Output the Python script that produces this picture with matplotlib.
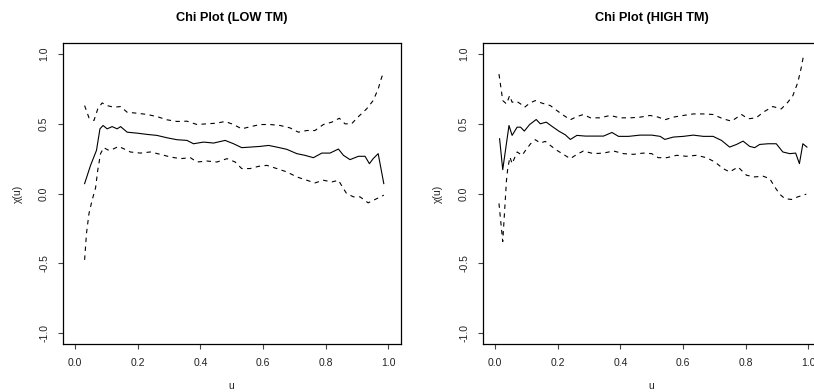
import matplotlib
matplotlib.use("Agg")
import matplotlib.pyplot as plt

plt.rcParams['font.family'] = ['Liberation Sans', 'DejaVu Sans']

# ---- LOW TM panel ----
low_u_chi = [0.030, 0.049, 0.068, 0.079, 0.089, 0.102, 0.118, 0.134, 0.145, 0.166,
             0.198, 0.230, 0.261, 0.293, 0.325, 0.357, 0.378, 0.410, 0.442, 0.479,
             0.506, 0.532, 0.559, 0.591, 0.618, 0.644, 0.676, 0.708, 0.734, 0.761,
             0.788, 0.814, 0.841, 0.857, 0.878, 0.905, 0.926, 0.940, 0.952, 0.968, 0.986]
low_chi = [0.071, 0.202, 0.310, 0.464, 0.488, 0.464, 0.480, 0.464, 0.480, 0.440,
           0.433, 0.424, 0.417, 0.400, 0.386, 0.381, 0.357, 0.369, 0.362, 0.381,
           0.357, 0.329, 0.333, 0.338, 0.345, 0.333, 0.317, 0.286, 0.274, 0.257,
           0.290, 0.290, 0.319, 0.274, 0.243, 0.267, 0.267, 0.214, 0.250, 0.286, 0.071]

low_u_hi = [0.030, 0.044, 0.060, 0.072, 0.086, 0.102, 0.123, 0.145, 0.166, 0.198,
            0.230, 0.261, 0.293, 0.325, 0.357, 0.389, 0.421, 0.453, 0.479, 0.506,
            0.532, 0.559, 0.591, 0.623, 0.655, 0.686, 0.713, 0.740, 0.766, 0.793,
            0.820, 0.844, 0.862, 0.883, 0.905, 0.931, 0.952, 0.968, 0.979, 0.986]
low_hi = [0.631, 0.543, 0.524, 0.607, 0.650, 0.631, 0.619, 0.624, 0.583, 0.576,
          0.567, 0.552, 0.529, 0.517, 0.519, 0.495, 0.500, 0.505, 0.517, 0.495,
          0.464, 0.479, 0.495, 0.495, 0.488, 0.471, 0.440, 0.452, 0.452, 0.495,
          0.512, 0.540, 0.500, 0.500, 0.552, 0.607, 0.667, 0.750, 0.833, 0.869]

low_u_lo = [0.030, 0.036, 0.044, 0.054, 0.065, 0.072, 0.081, 0.091, 0.107, 0.123,
            0.139, 0.155, 0.176, 0.208, 0.240, 0.272, 0.304, 0.336, 0.368, 0.389,
            0.421, 0.453, 0.485, 0.511, 0.532, 0.559, 0.586, 0.612, 0.644, 0.676,
            0.708, 0.740, 0.766, 0.793, 0.820, 0.841, 0.857, 0.867, 0.889, 0.910,
            0.936, 0.958, 0.986]
low_lo = [-0.476, -0.286, -0.143, -0.048, 0.040, 0.167, 0.286, 0.329, 0.310, 0.321,
          0.338, 0.321, 0.298, 0.290, 0.298, 0.281, 0.262, 0.250, 0.257, 0.226,
          0.233, 0.226, 0.250, 0.226, 0.179, 0.179, 0.195, 0.202, 0.179, 0.155,
          0.119, 0.095, 0.076, 0.095, 0.083, 0.095, 0.036, 0.000, -0.024, -0.024,
          -0.067, -0.043, -0.012]

# ---- HIGH TM panel ----
high_u_chi = [0.014, 0.024, 0.044, 0.054, 0.070, 0.081, 0.093, 0.110, 0.131, 0.144,
              0.163, 0.182, 0.203, 0.224, 0.240, 0.261, 0.288, 0.314, 0.346, 0.373,
              0.394, 0.426, 0.463, 0.500, 0.527, 0.542, 0.569, 0.601, 0.633, 0.665,
              0.696, 0.723, 0.749, 0.771, 0.792, 0.813, 0.829, 0.845, 0.872, 0.898,
              0.919, 0.941, 0.960, 0.972, 0.983, 0.996]
high_chi = [0.393, 0.171, 0.488, 0.417, 0.476, 0.476, 0.448, 0.495, 0.531, 0.500,
            0.512, 0.481, 0.448, 0.421, 0.388, 0.417, 0.412, 0.412, 0.412, 0.438,
            0.410, 0.410, 0.419, 0.419, 0.410, 0.388, 0.405, 0.410, 0.419, 0.410,
            0.410, 0.381, 0.333, 0.352, 0.376, 0.338, 0.329, 0.352, 0.357, 0.357,
            0.298, 0.286, 0.290, 0.214, 0.357, 0.333]

high_u_hi = [0.012, 0.024, 0.036, 0.046, 0.054, 0.068, 0.081, 0.094, 0.110, 0.128,
             0.150, 0.176, 0.197, 0.219, 0.240, 0.261, 0.282, 0.304, 0.335, 0.367,
             0.399, 0.431, 0.463, 0.495, 0.521, 0.542, 0.569, 0.601, 0.633, 0.665,
             0.696, 0.728, 0.755, 0.771, 0.787, 0.808, 0.834, 0.856, 0.887, 0.914,
             0.935, 0.951, 0.967, 0.978, 0.986]
high_hi = [0.857, 0.667, 0.643, 0.702, 0.655, 0.662, 0.643, 0.619, 0.648, 0.667,
           0.648, 0.631, 0.595, 0.560, 0.529, 0.552, 0.567, 0.543, 0.543, 0.560,
           0.543, 0.543, 0.548, 0.560, 0.548, 0.529, 0.548, 0.560, 0.571, 0.571,
           0.567, 0.536, 0.519, 0.543, 0.567, 0.536, 0.543, 0.583, 0.624, 0.607,
           0.655, 0.702, 0.798, 0.905, 1.000]

high_u_lo = [0.012, 0.024, 0.036, 0.040, 0.047, 0.054, 0.070, 0.086, 0.097, 0.113,
             0.128, 0.144, 0.160, 0.176, 0.197, 0.219, 0.240, 0.261, 0.282, 0.314,
             0.346, 0.378, 0.410, 0.442, 0.473, 0.500, 0.521, 0.548, 0.580, 0.611,
             0.643, 0.675, 0.702, 0.728, 0.749, 0.776, 0.803, 0.829, 0.856, 0.877,
             0.893, 0.909, 0.925, 0.946, 0.967, 0.994]
high_lo = [-0.071, -0.345, 0.095, 0.179, 0.262, 0.214, 0.298, 0.274, 0.310, 0.357,
           0.386, 0.362, 0.374, 0.345, 0.310, 0.279, 0.250, 0.281, 0.305, 0.286,
           0.290, 0.305, 0.286, 0.281, 0.290, 0.286, 0.257, 0.257, 0.274, 0.267,
           0.274, 0.257, 0.226, 0.179, 0.155, 0.190, 0.131, 0.119, 0.124, 0.107,
           0.048, -0.005, -0.036, -0.043, -0.024, -0.005]

xticks = [0.0, 0.2, 0.4, 0.6, 0.8, 1.0]
yticks = [-1.0, -0.5, 0.0, 0.5, 1.0]

panels = [
    ("Chi Plot (LOW TM)", low_u_chi, low_chi, low_u_lo, low_lo, low_u_hi, low_hi),
    ("Chi Plot (HIGH TM)", high_u_chi, high_chi, high_u_lo, high_lo, high_u_hi, high_hi),
]

fig = plt.figure(figsize=(8.14, 3.92), dpi=100)
W, H = 814, 392
lefts = [62.7, 482.7]
ax_w, ax_top, ax_bot = 338, 43, 344

for left, (title, u_c, c, u_l, lo, u_h, hi) in zip(lefts, panels):
    ax = fig.add_axes([left / W, 1 - ax_bot / H, ax_w / W, (ax_bot - ax_top) / H])
    ax.plot(u_c, c, color='black', lw=0.8)
    for uu, vv in [(u_l, lo), (u_h, hi)]:
        ln, = ax.plot(uu, vv, color='black', lw=0.8)
        ln.set_dashes((4, 4))
    ax.set_xlim(-0.04, 1.04)
    ax.set_ylim(-1.08, 1.08)
    ax.set_xticks(xticks)
    ax.set_xticklabels([f"{t:.1f}" for t in xticks])
    ax.set_yticks(yticks)
    ax.set_yticklabels([f"{t:.1f}" for t in yticks], rotation=90, va='center')
    ax.tick_params(length=3.8, width=0.8, color='#444', labelsize=7.5,
                   labelcolor='#222', pad=6)
    for s in ax.spines.values():
        s.set_linewidth(0.9)
    ax.set_title(title, fontsize=9.2, fontweight='bold', y=1.083, va='center', pad=0)
    ax.set_xlabel("u", fontsize=7.5, color='#222')
    ax.xaxis.set_label_coords(0.5, -0.138)
    ax.xaxis.label.set_verticalalignment('center')
    ax.set_ylabel("χ(u)", fontsize=7.5, color='#222')
    ax.yaxis.label.set_verticalalignment('center')
    ax.yaxis.set_label_coords(-0.133, 0.5)

fig.savefig("out.png", dpi=100)
